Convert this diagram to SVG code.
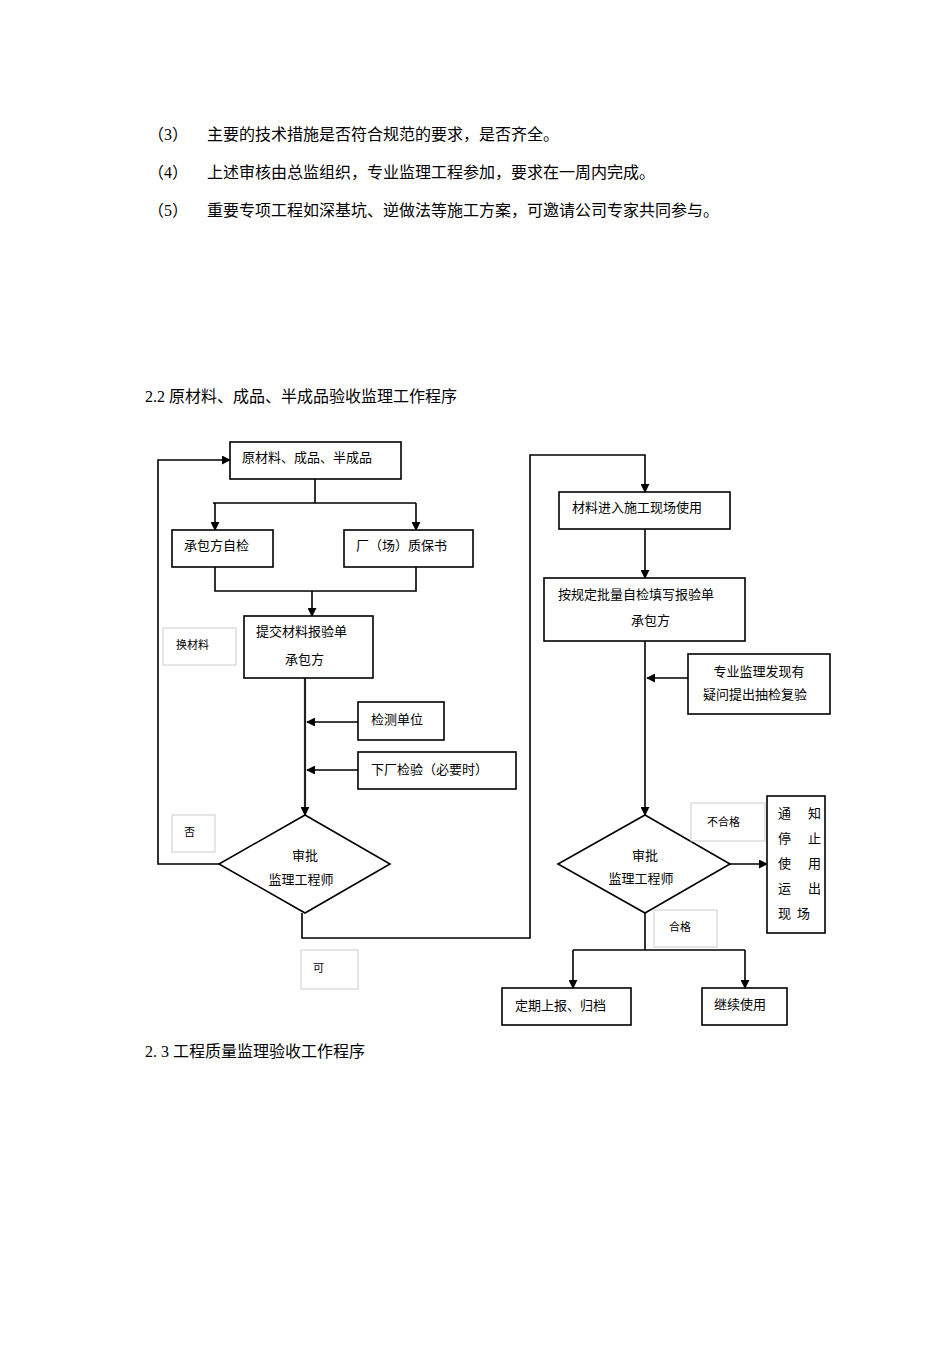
<svg xmlns="http://www.w3.org/2000/svg" width="950" height="1345" viewBox="0 0 950 1345">
<style>
text{font-family:"Liberation Serif","Noto Sans CJK SC",serif;fill:#000}
.p{font-size:16px}
.t{font-size:13px}
.s{font-size:11px}
.b{fill:#fff;stroke:#000;stroke-width:1.6}
.l{fill:#fff;stroke:#ccc;stroke-width:1}
.c{fill:none;stroke:#000;stroke-width:1.6}
.cd{fill:none;stroke:#222;stroke-width:2.2}
</style>
<defs><marker id="a" viewBox="0 0 10 10" refX="9" refY="5" markerWidth="9" markerHeight="9" markerUnits="userSpaceOnUse" orient="auto"><path d="M0,0L10,5L0,10z" fill="#000"/></marker></defs>
<rect width="950" height="1345" fill="#fff"/>
<g id="texts">
<text class="p" x="148" y="140">（3）</text><text class="p" x="207" y="140">主要的技术措施是否符合规范的要求，是否齐全。</text>
<text class="p" x="148" y="178">（4）</text><text class="p" x="207" y="178">上述审核由总监组织，专业监理工程参加，要求在一周内完成。</text>
<text class="p" x="148" y="216">（5）</text><text class="p" x="207" y="216">重要专项工程如深基坑、逆做法等施工方案，可邀请公司专家共同参与。</text>
<text class="p" x="145" y="402">2.2  原材料、成品、半成品验收监理工作程序</text>
<text class="p" x="145" y="1057">2. 3   工程质量监理验收工作程序</text>
</g>
<g id="connectors">
<path class="c" d="M315,479V503M213,503H416"/>
<path class="c" d="M215,503V530" marker-end="url(#a)"/>
<path class="c" d="M416,503V530" marker-end="url(#a)"/>
<path class="c" d="M215,567V591H416V567M312,591V616" marker-end="url(#a)"/>
<path class="cd" d="M305,678V815" marker-end="url(#a)"/>
<path class="c" d="M358,722H307" marker-end="url(#a)"/>
<path class="c" d="M358,770H307" marker-end="url(#a)"/>
<path class="c" d="M219,864H158V460H230" marker-end="url(#a)"/>
<path class="c" d="M302,913V938H530V455H645V492" marker-end="url(#a)"/>
<path class="c" d="M645,529V578" marker-end="url(#a)"/>
<path class="c" d="M645,641V815" marker-end="url(#a)"/>
<path class="c" d="M688,678H647" marker-end="url(#a)"/>
<path class="c" d="M730,864H767" marker-end="url(#a)"/>
<path class="c" d="M645,913V950M573,950H745"/>
<path class="c" d="M573,950V988" marker-end="url(#a)"/>
<path class="c" d="M745,950V988" marker-end="url(#a)"/>
</g>
<g id="n1"><rect class="b" x="230" y="442" width="171" height="37"/><text class="t" x="242" y="462">原材料、成品、半成品</text></g>
<g id="n2"><rect class="b" x="172" y="530" width="101" height="37"/><text class="t" x="184" y="550">承包方自检</text></g>
<g id="n3"><rect class="b" x="344" y="530" width="129" height="37"/><text class="t" x="356" y="550">厂（场）质保书</text></g>
<g id="n4"><rect class="b" x="244" y="616" width="129" height="62"/><text class="t" x="256" y="636">提交材料报验单</text><text class="t" x="285" y="664">承包方</text></g>
<g id="l1"><rect class="l" x="163" y="628" width="73" height="37"/><text class="s" x="176" y="649">换材料</text></g>
<g id="n5"><rect class="b" x="358" y="702" width="86" height="38"/><text class="t" x="371" y="724">检测单位</text></g>
<g id="n6"><rect class="b" x="358" y="752" width="158" height="37"/><text class="t" x="371" y="774">下厂检验（必要时）</text></g>
<g id="d1"><polygon class="b" points="305,815 390,864 305,913 219,864"/><text class="t" x="305" y="860" text-anchor="middle">审批</text><text class="t" x="301" y="884" text-anchor="middle">监理工程师</text></g>
<g id="l2"><rect class="l" x="172" y="815" width="43" height="37"/><text class="s" x="184" y="836">否</text></g>
<g id="l3"><rect class="l" x="301" y="950" width="57" height="39"/><text class="s" x="313" y="972">可</text></g>
<g id="n7"><rect class="b" x="559" y="492" width="171" height="37"/><text class="t" x="572" y="512">材料进入施工现场使用</text></g>
<g id="n8"><rect class="b" x="544" y="578" width="201" height="63"/><text class="t" x="558" y="599">按规定批量自检填写报验单</text><text class="t" x="631" y="625">承包方</text></g>
<g id="n9"><rect class="b" x="688" y="654" width="142" height="60"/><text class="t" x="759" y="676" text-anchor="middle">专业监理发现有</text><text class="t" x="755" y="699" text-anchor="middle">疑问提出抽检复验</text></g>
<g id="d2"><polygon class="b" points="645,815 730,864 645,913 558,864"/><text class="t" x="645" y="860" text-anchor="middle">审批</text><text class="t" x="641" y="883" text-anchor="middle">监理工程师</text></g>
<g id="l4"><rect class="l" x="691" y="803" width="74" height="38"/><text class="s" x="707" y="826">不合格</text></g>
<g id="n10"><rect class="b" x="767" y="796" width="58" height="137"/>
<text class="t" x="778" y="818">通</text><text class="t" x="808" y="818">知</text>
<text class="t" x="778" y="843">停</text><text class="t" x="808" y="843">止</text>
<text class="t" x="778" y="868">使</text><text class="t" x="808" y="868">用</text>
<text class="t" x="778" y="893">运</text><text class="t" x="808" y="893">出</text>
<text class="t" x="778" y="918">现</text><text class="t" x="797" y="918">场</text></g>
<g id="l5"><rect class="l" x="654" y="910" width="63" height="37"/><text class="s" x="669" y="931">合格</text></g>
<g id="n11"><rect class="b" x="502" y="988" width="129" height="37"/><text class="t" x="515" y="1010">定期上报、归档</text></g>
<g id="n12"><rect class="b" x="702" y="988" width="85" height="37"/><text class="t" x="714" y="1009">继续使用</text></g>
</svg>
